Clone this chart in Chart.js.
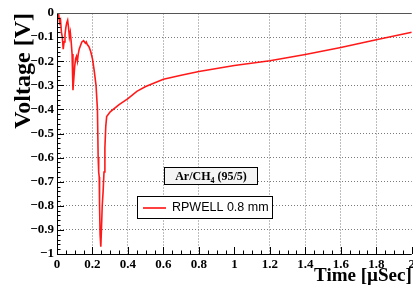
<!DOCTYPE html>
<html lang="en">
<head>
    <meta charset="UTF-8">
    <title>RPWELL signal</title>
    <script src="https://cdn.jsdelivr.net/npm/chart.js@4.4.1/dist/chart.umd.min.js"></script>
    <style>
        body {
            margin: 0;
            background: #fff;
        }
        .wrap {
            width: 413px;
            height: 288px;
            overflow: hidden;
        }
    </style>
</head>
<body>
    <div class="wrap">
        <canvas id="pulse" width="418" height="288"></canvas>
    </div>

    <script>
        // time in microseconds, voltage in volts
        const timeUs = [
            0, 0.005, 0.01, 0.015, 0.02, 0.025, 0.03, 0.035, 0.04, 0.045,
            0.05, 0.055, 0.06, 0.065, 0.07, 0.075, 0.08, 0.085, 0.09, 0.095,
            0.1, 0.105, 0.11, 0.115, 0.12, 0.125, 0.13, 0.14, 0.15, 0.16,
            0.165, 0.17, 0.18, 0.19, 0.2, 0.21, 0.22, 0.228, 0.232, 0.235,
            0.238, 0.24, 0.243, 0.247, 0.25, 0.255, 0.26, 0.265, 0.27, 0.275,
            0.28, 0.3, 0.35, 0.4, 0.45, 0.5, 0.6, 0.7, 0.8, 0.9,
            1.0, 1.2, 1.4, 1.6, 1.8, 2.0
        ];
        const voltage = [
            0, -0.02, -0.01, -0.04, -0.03, -0.08, -0.1, -0.15, -0.12, -0.09,
            -0.06, -0.04, -0.03, -0.06, -0.1, -0.08, -0.12, -0.17, -0.32, -0.27,
            -0.22, -0.19, -0.18, -0.2, -0.17, -0.15, -0.14, -0.12, -0.115, -0.125,
            -0.12, -0.13, -0.14, -0.16, -0.19, -0.24, -0.3, -0.4, -0.6, -0.66,
            -0.68, -0.8, -0.92, -0.97, -0.91, -0.8, -0.74, -0.66, -0.56, -0.47,
            -0.43, -0.41, -0.38, -0.355, -0.325, -0.305, -0.275, -0.258, -0.243, -0.23,
            -0.218, -0.198, -0.172, -0.143, -0.111, -0.08
        ];
        const seriesLabel = 'RPWELL 0.8 mm';
        const gasLabel = ['Ar/CH', '4', ' (95/5)'];

        const serif = "'Liberation Serif', 'DejaVu Serif', serif";

        function fmt(v) {
            const r = Math.round(v * 10) / 10;
            if (r === 0) return '0';
            if (Math.abs(r - Math.round(r)) < 1e-9) return (r < 0 ? '\u2212' : '') + Math.abs(Math.round(r));
            return (r < 0 ? '\u2212' : '') + Math.abs(r).toFixed(1);
        }

        // inner tick marks, top frame and the two text boxes
        const frame = {
            id: 'frame',
            afterDraw(chart) {
                const ctx = chart.ctx;
                const a = chart.chartArea;
                const xs = chart.scales.x, ys = chart.scales.y;
                ctx.save();
                ctx.setLineDash([]);
                ctx.strokeStyle = '#000';
                ctx.lineWidth = 1;
                ctx.beginPath();
                for (let i = 0; i <= 40; i++) {
                    const px = Math.round(xs.getPixelForValue(i * 0.05)) + 0.5;
                    const len = i % 4 === 0 ? 7 : 3.5;
                    ctx.moveTo(px, a.bottom);
                    ctx.lineTo(px, a.bottom - len);
                }
                for (let i = 0; i <= 50; i++) {
                    const py = Math.round(ys.getPixelForValue(-i * 0.02)) + 0.5;
                    const len = i % 5 === 0 ? 7 : 3.5;
                    ctx.moveTo(a.left, py);
                    ctx.lineTo(a.left + len, py);
                }
                ctx.stroke();

                // axis lines and the top frame
                ctx.beginPath();
                ctx.moveTo(Math.round(a.left) + 0.5, a.top);
                ctx.lineTo(Math.round(a.left) + 0.5, Math.round(a.bottom) + 0.5);
                ctx.lineTo(a.right, Math.round(a.bottom) + 0.5);
                ctx.stroke();
                ctx.strokeStyle = '#555';
                ctx.beginPath();
                ctx.moveTo(a.left, a.top + 0.5);
                ctx.lineTo(a.right, a.top + 0.5);
                ctx.stroke();

                // gas mixture box
                ctx.strokeStyle = '#000';
                ctx.fillStyle = '#f4f4f4';
                ctx.fillRect(164.5, 167.5, 93, 17);
                ctx.strokeRect(164.5, 167.5, 93, 17);
                ctx.fillStyle = '#000';
                ctx.textBaseline = 'alphabetic';
                ctx.font = 'bold 12px ' + serif;
                const w0 = ctx.measureText(gasLabel[0]).width;
                ctx.font = 'bold 8px ' + serif;
                const w1 = ctx.measureText(gasLabel[1]).width;
                ctx.font = 'bold 12px ' + serif;
                const w2 = ctx.measureText(gasLabel[2]).width;
                let tx = 211 - (w0 + w1 + w2) / 2;
                ctx.fillText(gasLabel[0], tx, 180);
                ctx.font = 'bold 8px ' + serif;
                ctx.fillText(gasLabel[1], tx + w0, 183);
                ctx.font = 'bold 12px ' + serif;
                ctx.fillText(gasLabel[2], tx + w0 + w1, 180);

                // series legend box
                ctx.fillStyle = '#fff';
                ctx.fillRect(137.5, 196.5, 135, 22);
                ctx.strokeRect(137.5, 196.5, 135, 22);
                ctx.strokeStyle = '#ff0000';
                ctx.lineWidth = 1.5;
                ctx.beginPath();
                ctx.moveTo(143, 208);
                ctx.lineTo(166, 208);
                ctx.stroke();
                ctx.fillStyle = '#000';
                ctx.font = "12.5px 'Liberation Sans', Arial, sans-serif";
                ctx.textBaseline = 'middle';
                ctx.fillText(chart.data.datasets[0].label, 172, 208);
                ctx.restore();
            }
        };

        const edge = v => Math.abs(v) < 1e-9 || Math.abs(Math.abs(v) - 1) < 1e-9 || Math.abs(v - 2) < 1e-9;

        new Chart(document.getElementById('pulse'), {
            type: 'line',
            data: {
                datasets: [{
                    label: seriesLabel,
                    data: timeUs.map((t, i) => ({ x: t, y: voltage[i] })),
                    borderColor: 'rgba(255, 0, 0, 0.9)',
                    borderWidth: 1.6,
                    pointRadius: 0,
                    tension: 0,
                    fill: false
                }]
            },
            options: {
                responsive: false,
                animation: false,
                layout: { padding: { top: 13, right: 3, left: 0, bottom: 0 } },
                plugins: {
                    legend: { display: false },
                    tooltip: { enabled: false }
                },
                scales: {
                    x: {
                        type: 'linear',
                        min: 0,
                        max: 2,
                        afterFit: s => { s.height = 34; },
                        ticks: {
                            stepSize: 0.2,
                            padding: 3,
                            maxRotation: 0,
                            autoSkip: false,
                            color: '#000',
                            font: { family: serif, size: 13, weight: 'bold' },
                            callback: v => fmt(v)
                        },
                        grid: {
                            drawTicks: false,
                            color: ctx => edge(ctx.tick ? ctx.tick.value : 0) ? 'rgba(0,0,0,0)' : '#bdbdbd',
                            lineWidth: 1
                        },
                        border: { display: false, dash: [2, 1] },
                        title: {
                            display: true,
                            text: 'Time [\u00b5Sec]',
                            align: 'end',
                            color: '#000',
                            font: { family: serif, size: 19, weight: 'bold', lineHeight: 1 },
                            padding: { top: 0, bottom: 2 }
                        }
                    },
                    y: {
                        type: 'linear',
                        min: -1,
                        max: 0,
                        afterFit: s => { s.width = 57; },
                        ticks: {
                            stepSize: 0.1,
                            padding: 3,
                            color: '#000',
                            font: { family: serif, size: 13, weight: 'bold' },
                            callback: v => fmt(v)
                        },
                        grid: {
                            drawTicks: false,
                            color: ctx => edge(ctx.tick ? ctx.tick.value : 0) ? 'rgba(0,0,0,0)' : '#7a7a7a',
                            lineWidth: 1
                        },
                        border: { display: false, dash: [1, 2] },
                        title: {
                            display: true,
                            text: 'Voltage [V]',
                            align: 'end',
                            color: '#000',
                            font: { family: serif, size: 24, weight: 'bold', lineHeight: 1 },
                            padding: { top: 12, bottom: 0 }
                        }
                    }
                }
            },
            plugins: [frame]
        });
    </script>
</body>
</html>
